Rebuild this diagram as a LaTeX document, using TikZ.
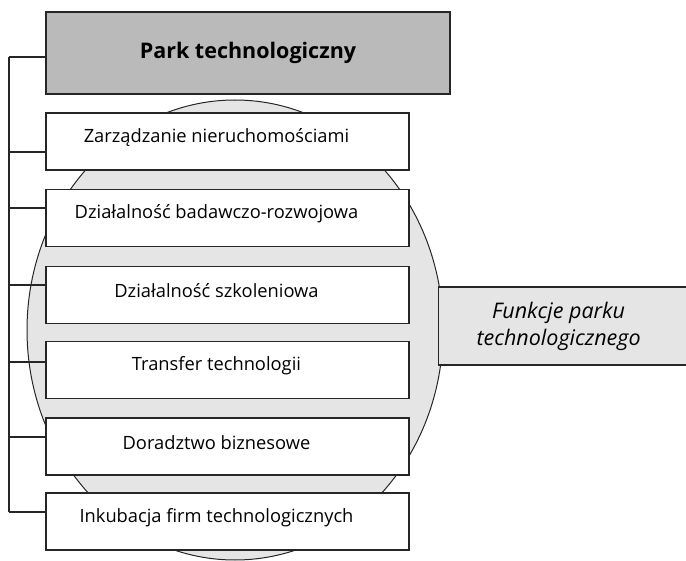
\documentclass[tikz,border=0pt]{standalone}
\usepackage{fontspec}
\setmainfont{Open Sans}
\begin{document}
\begin{tikzpicture}[x=1pt,y=-1pt,
  line width=1.3pt,
  every node/.style={draw=black!85, line width=1.3pt, inner sep=0pt},
  topbox/.style={fill=black!27, minimum width=404pt, minimum height=82pt,
    font=\fontsize{21.5}{24}\selectfont\bfseries},
  taskbox/.style={fill=white, minimum width=363pt, minimum height=57pt},
  tasktext/.style={draw=none, font=\fontsize{18.3}{22}\selectfont, xshift=-11pt, yshift=4pt},
  sidebox/.style={fill=black!10, minimum width=260pt, minimum height=78pt},
  sidetext/.style={draw=none, align=center, xshift=-10pt,
    font=\fontsize{21.5}{27}\selectfont\itshape},
  bus/.style={draw=black!85, line width=1.2pt}]
\useasboundingbox (0,0) rectangle (686,561);

% background ellipse
\fill[black!10] (235,330) ellipse [x radius=208pt, y radius=230pt];
\draw[black!85, line width=1pt] (235,330) ellipse [x radius=208pt, y radius=230pt];

% heading box
\node[topbox] (top) at (248,53) {Park technologiczny};

% function boxes
\node[taskbox, label={[tasktext]center:Zarządzanie nieruchomościami}] (b1) at (227.5,141.5) {};
\node[taskbox, label={[tasktext]center:Działalność badawczo-rozwojowa}] (b2) at (227.5,218) {};
\node[taskbox, label={[tasktext]center:Działalność szkoleniowa}] (b3) at (227.5,295) {};
\node[taskbox, label={[tasktext]center:Transfer technologii}] (b4) at (227.5,370) {};
\node[taskbox, label={[tasktext]center:Doradztwo biznesowe}] (b5) at (227.5,446.5) {};
\node[taskbox, label={[tasktext]center:Inkubacja firm technologicznych}] (b6) at (227.5,521.5) {};

% side caption box, running off the right edge
\node[sidebox, anchor=west, label={[sidetext]center:Funkcje parku\\technologicznego}] (side) at (438,326) {};

% left bus joining the boxes
\coordinate (bus) at (9,0);
\coordinate (j0) at ([yshift=-4pt]top.west);
\coordinate (j1) at ([yshift=-10.5pt]b1.west);
\coordinate (j2) at ([yshift=10pt]b2.west);
\coordinate (j3) at ([yshift=10pt]b3.west);
\coordinate (j4) at ([yshift=8pt]b4.west);
\coordinate (j5) at ([yshift=9.5pt]b5.west);
\coordinate (j6) at ([yshift=9.5pt]b6.west);
\draw[bus] (j0 -| bus) -- (j6 -| bus);
\foreach \j in {j0,j1,j2,j3,j4,j5,j6}
  \draw[bus] (\j) -- (\j -| bus);
\end{tikzpicture}
\end{document}
